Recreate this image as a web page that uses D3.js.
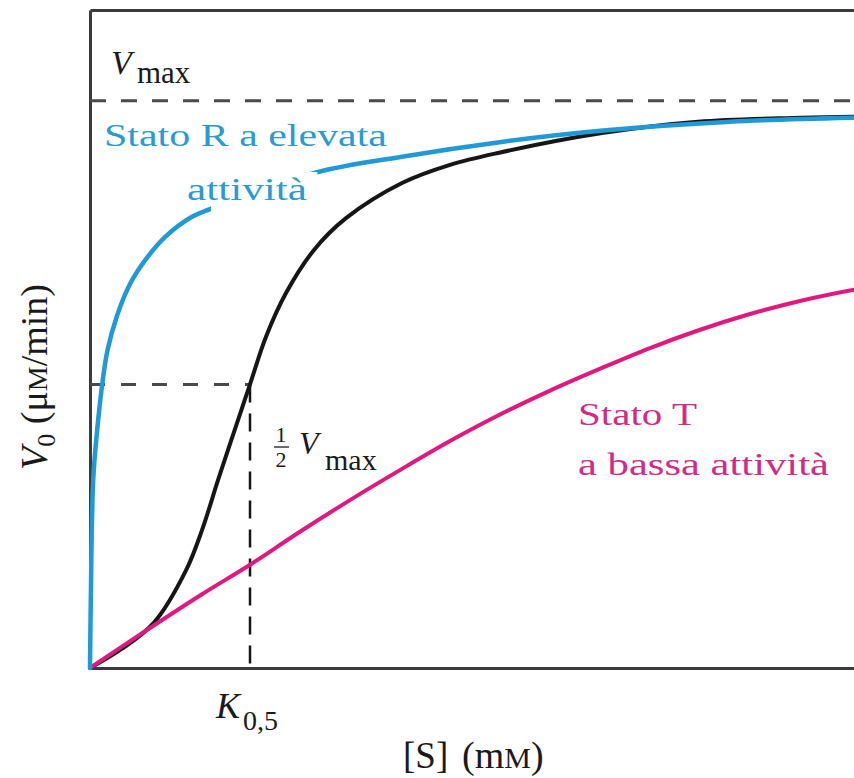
<!DOCTYPE html>
<html>
<head>
<meta charset="utf-8">
<script src="https://cdn.jsdelivr.net/npm/d3@7"></script>
<style>
  body { margin: 0; background: #fff; }
  svg { display: block; font-family: "Liberation Serif", "Times New Roman", serif; }
</style>
</head>
<body>
<svg id="chart" width="854" height="778"></svg>
<script>
// Substrate concentration [S] (mM) and initial velocity V0 (fraction of Vmax)

// R state, high activity (hyperbolic)
const rStateS = [0, 0.01, 0.04, 0.09, 0.16, 0.22, 0.34, 0.5, 0.69, 0.94, 1.27, 1.5, 2.84, 3.88, 5.12, 6.38, 8.0, 9.5, 10];
const rStateV = [0, 0.12, 0.331, 0.42, 0.508, 0.561, 0.622, 0.677, 0.719, 0.76, 0.795, 0.809, 0.874, 0.901, 0.927, 0.947, 0.963, 0.97, 0.971];

// Allosteric enzyme (sigmoid)
const allostericS = [0, 0.4, 0.8, 1.2, 1.4, 1.6, 1.8, 2.0, 2.2, 2.45, 2.8, 3.2, 3.9, 4.5, 5.1, 6.4, 7.6, 8.9, 10];
const allostericV = [0, 0.034, 0.08, 0.172, 0.243, 0.331, 0.416, 0.5, 0.584, 0.661, 0.737, 0.793, 0.855, 0.887, 0.908, 0.943, 0.963, 0.97, 0.973];

// T state, low activity
const tStateS = [0, 0.75, 1.4, 2.0, 2.6, 3.25, 3.9, 4.5, 5.1, 5.75, 6.4, 7.0, 7.6, 8.25, 8.9, 9.55, 10];
const tStateV = [0, 0.0705, 0.13, 0.182, 0.238, 0.296, 0.351, 0.4, 0.445, 0.489, 0.529, 0.564, 0.595, 0.624, 0.648, 0.667, 0.678];

const vMax = 1;
const halfVmax = 0.5;
const k05 = 2.0;
const sDomain = [0, 10];
const vDomain = [0, 1.16];

const blue = "#1f9ad6", blueText = "#2b9ad2";
const pink = "#e0197f", pinkText = "#d42a84";
const ink = "#161616", frame = "#3b3b3b";

const svg = d3.select("#chart");
const x = d3.scaleLinear().domain(sDomain).range([90, 890]);
const y = d3.scaleLinear().domain(vDomain).range([668, 10]);

const zip = (a, b) => a.map((v, i) => [v, b[i]]);
const line = d3.line().x(d => x(d[0])).y(d => y(d[1])).curve(d3.curveCatmullRom.alpha(0.5));

// Frame: left, bottom and top edges, no ticks
const axisStyle = g => g.call(s => s.select(".domain").attr("stroke", frame).attr("stroke-width", 3));
svg.append("g").attr("transform", `translate(0,${y(0)})`)
  .call(d3.axisBottom(x).tickValues([]).tickSizeOuter(0)).call(axisStyle);
svg.append("g").attr("transform", `translate(0,${y(vDomain[1])})`)
  .call(d3.axisTop(x).tickValues([]).tickSizeOuter(0)).call(axisStyle);
svg.append("g").attr("transform", `translate(${x(0)},0)`)
  .call(d3.axisLeft(y).tickValues([]).tickSizeOuter(0)).call(axisStyle);

// Reference lines: Vmax, 1/2 Vmax and K0.5
svg.append("line")
  .attr("x1", x(0)).attr("x2", x(sDomain[1])).attr("y1", y(vMax)).attr("y2", y(vMax))
  .attr("stroke", "#4a4a4a").attr("stroke-width", 3).attr("stroke-dasharray", "16,15");
svg.append("line")
  .attr("x1", x(0)).attr("x2", x(k05)).attr("y1", y(halfVmax)).attr("y2", y(halfVmax))
  .attr("stroke", "#4a4a4a").attr("stroke-width", 3).attr("stroke-dasharray", "15,16");
svg.append("line")
  .attr("x1", x(k05)).attr("x2", x(k05)).attr("y1", y(halfVmax)).attr("y2", y(0))
  .attr("stroke", ink).attr("stroke-width", 2.5).attr("stroke-dasharray", "18,11");

// Curves
svg.append("path").datum(zip(allostericS, allostericV)).attr("d", line)
  .attr("fill", "none").attr("stroke", ink).attr("stroke-width", 4).attr("stroke-linecap", "round");
svg.append("path").datum(zip(tStateS, tStateV)).attr("d", line)
  .attr("fill", "none").attr("stroke", pink).attr("stroke-width", 4).attr("stroke-linecap", "round");
svg.append("path").datum(zip(rStateS, rStateV)).attr("d", line)
  .attr("fill", "none").attr("stroke", blue).attr("stroke-width", 4.5).attr("stroke-linecap", "round");

// Text helper
function txt(parent, s, px, py, size, opts = {}) {
  const t = parent.append("text").attr("x", px).attr("y", py)
    .attr("font-size", size).attr("fill", opts.fill || "#1a1a1a").text(s);
  if (opts.width) t.attr("textLength", opts.width).attr("lengthAdjust", "spacingAndGlyphs");
  if (opts.italic) t.attr("font-style", "italic");
  if (opts.anchor) t.attr("text-anchor", opts.anchor);
  return t;
}

// Curve labels
txt(svg, "Stato R a elevata", 104, 146, 31, { fill: blueText, width: 283 });
const knock = svg.append("rect").attr("fill", "#fff");
const att = txt(svg, "attività", 187, 200, 31, { fill: blueText, width: 120 });
const bb = att.node().getBBox();
knock.attr("x", bb.x + 24).attr("y", bb.y).attr("width", bb.width - 14).attr("height", bb.height + 4);

txt(svg, "Stato T", 578, 425, 31, { fill: pinkText, width: 119 });
txt(svg, "a bassa attività", 578, 475, 31, { fill: pinkText, width: 251 });

// Vmax label
txt(svg, "V", 111, 74, 34, { italic: true });
txt(svg, "max", 137, 83, 31);

// 1/2 Vmax label
txt(svg, "1", 281, 442, 22, { anchor: "middle" });
svg.append("line").attr("x1", 274).attr("x2", 289).attr("y1", 447).attr("y2", 447)
  .attr("stroke", "#1a1a1a").attr("stroke-width", 1.3);
txt(svg, "2", 281, 467, 22, { anchor: "middle" });
txt(svg, "V", 299, 454, 32, { italic: true });
txt(svg, "max", 325, 470, 30);

// K0,5 label
txt(svg, "K", 216, 718, 36, { italic: true });
txt(svg, "0,5", 243, 730, 28);

// Axis titles
txt(svg, "[S]", 403, 768, 37);
const xt = svg.append("text").attr("x", 462).attr("y", 768).attr("font-size", 38).attr("fill", "#1a1a1a");
xt.append("tspan").text("(m");
xt.append("tspan").attr("font-size", 30).text("M");
xt.append("tspan").text(")");

const yt = svg.append("text").attr("transform", "translate(47,377) rotate(-90)")
  .attr("text-anchor", "middle").attr("font-size", 38).attr("fill", "#1a1a1a");
yt.append("tspan").attr("font-style", "italic").text("V");
yt.append("tspan").attr("font-size", 26).attr("dy", 8).text("0");
yt.append("tspan").attr("dy", -8).text(" (μ");
yt.append("tspan").attr("font-size", 28).text("M");
yt.append("tspan").text("/min)");
</script>
</body>
</html>
